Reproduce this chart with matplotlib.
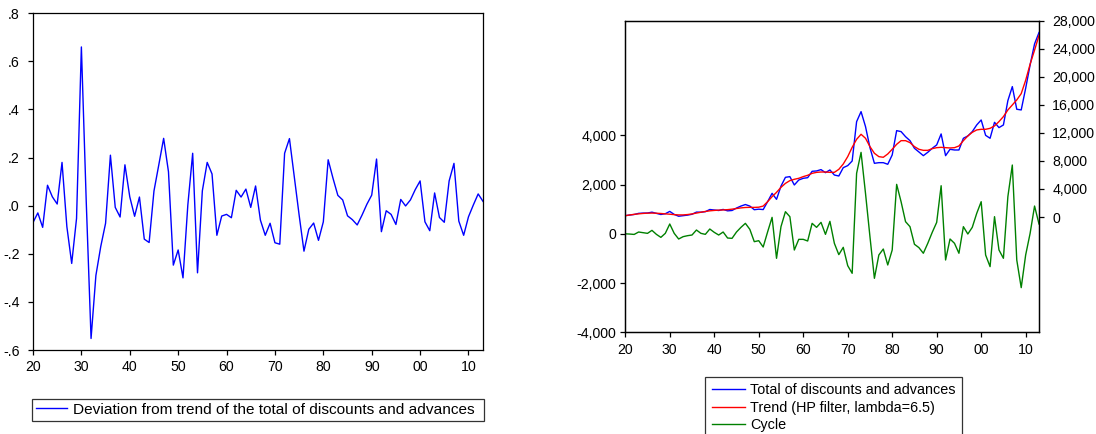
import matplotlib
matplotlib.use("Agg")
import matplotlib.pyplot as plt
from matplotlib.ticker import FixedLocator, FuncFormatter

plt.rcParams['font.family'] = ['Liberation Sans', 'DejaVu Sans']
plt.rcParams['font.size'] = 10

# annual data 1920-2013
years = list(range(1920, 2014))

# log deviation from trend
deviation = [
    -0.07, -0.03, -0.09, 0.085, 0.037, 0.007, 0.18, -0.087, -0.24, -0.053,
    0.66, 0.02, -0.552, -0.29, -0.17, -0.073, 0.21, -0.007, -0.047, 0.17,
    0.037, -0.044, 0.036, -0.139, -0.153, 0.061, 0.17, 0.28, 0.141, -0.247,
    -0.184, -0.30, 0.003, 0.218, -0.279, 0.062, 0.18, 0.132, -0.123, -0.043,
    -0.036, -0.05, 0.064, 0.036, 0.069, -0.007, 0.082, -0.06, -0.123, -0.073,
    -0.154, -0.16, 0.218, 0.279, 0.12, -0.039, -0.189, -0.098, -0.072, -0.144,
    -0.067, 0.191, 0.114, 0.043, 0.024, -0.042, -0.058, -0.08, -0.039, 0.006,
    0.044, 0.194, -0.108, -0.021, -0.036, -0.078, 0.026, -0.001, 0.024, 0.067,
    0.103, -0.067, -0.104, 0.053, -0.049, -0.069, 0.103, 0.176, -0.064, -0.123,
    -0.046, 0.003, 0.049, 0.018,
]

# total of discounts and advances
total = [
    190, 280, 360, 520, 560, 570, 690, 520, 360, 470,
    800, 370, 110, 190, 270, 390, 700, 690, 760, 1070,
    1000, 930, 1080, 880, 930, 1280, 1560, 1780, 1560, 1040,
    1120, 1060, 2190, 3380, 2520, 4400, 5660, 5760, 4570, 5280,
    5520, 5610, 6520, 6570, 6760, 6330, 6710, 5990, 5850, 7040,
    7330, 7990, 13600, 15030, 12900, 9900, 7660, 7750, 7750, 7520,
    8850, 12320, 12180, 11460, 10890, 9800, 9280, 8750, 9230, 9800,
    10280, 11850, 8750, 9660, 9560, 9560, 11230, 11560, 12180, 13130,
    13840, 11650, 11230, 13510, 12750, 13130, 16600, 18600, 15370, 15270,
    18360, 21690, 24690, 26310,
]

# HP trend, lambda = 6.5
trend = [
    190, 290, 380, 450, 510, 550, 560, 540, 500, 450,
    400, 340, 300, 300, 350, 440, 560, 680, 790, 880,
    940, 980, 1010, 1050, 1120, 1210, 1300, 1360, 1380, 1370,
    1400, 1560, 2190, 2900, 3520, 4230, 4800, 5190, 5380, 5520,
    5760, 5950, 6230, 6370, 6420, 6420, 6370, 6370, 6800, 7560,
    8610, 9940, 11080, 11800, 11230, 10040, 9090, 8610, 8520, 8990,
    9660, 10370, 10890, 10890, 10610, 10040, 9660, 9510, 9510, 9750,
    9890, 9940, 9890, 9850, 9890, 10130, 10890, 11560, 12080, 12420,
    12510, 12510, 12650, 12990, 13610, 14320, 15270, 15980, 16700, 17600,
    19500, 21800, 23800, 25900,
]

# cycle component
cycle = [
    0, -10, -25, 73, 46, 19, 140, -22, -144, 19,
    398, 19, -211, -116, -76, -49, 154, 19, -22, 195,
    60, -49, 73, -171, -184, 73, 262, 425, 181, -319,
    -279, -536, 80, 668, -995, 290, 898, 695, -658, -225,
    -225, -292, 425, 262, 465, -22, 506, -386, -846, -549,
    -1293, -1604, 2455, 3307, 1643, -116, -1807, -860, -617, -1266,
    -658, 2008, 1300, 493, 290, -425, -560, -790, -385, 60,
    465, 1953, -1063, -210, -385, -790, 290, -8, 263, 831,
    1304, -860, -1333, 696, -656, -994, 1507, 2793, -1063, -2186,
    -860, 19, 1128, 398,
]

decade_ticks = [1920, 1930, 1940, 1950, 1960, 1970, 1980, 1990, 2000, 2010]
decade_labels = ['20', '30', '40', '50', '60', '70', '80', '90', '00', '10']


def dev_fmt(v, pos):
    s = '%.1f' % v
    return s.replace('0.', '.')


def thousands(v, pos):
    return '{:,.0f}'.format(v)


def style_axes(ax):
    for sp in ax.spines.values():
        sp.set_linewidth(0.9)
        sp.set_color('black')
    ax.set_xlim(1920, 2013)
    ax.set_xticks(decade_ticks)
    ax.set_xticklabels(decade_labels)
    ax.tick_params(direction='out', length=3.5, width=0.9, colors='black', labelsize=10.2)
    ax.tick_params(axis='x', pad=4)


fig = plt.figure(figsize=(10.96, 4.34), dpi=100)

# left: deviation from trend
ax1 = fig.add_axes([0.0301, 0.1935, 0.4106, 0.7759])
ax1.plot(years, deviation, color='#0000FF', lw=1.0,
         label='Deviation from trend of the total of discounts and advances')
style_axes(ax1)
ax1.set_ylim(-0.6, 0.8)
ax1.yaxis.set_major_locator(FixedLocator([-0.6, -0.4, -0.2, 0.0, 0.2, 0.4, 0.6, 0.8]))
ax1.yaxis.set_major_formatter(FuncFormatter(dev_fmt))
ax1.tick_params(axis='y', pad=6)

fig.legend(handles=ax1.get_lines(), loc='upper left',
           bbox_to_anchor=(32 / 1096, 1 - 399 / 434, 452 / 1096, 0.0),
           mode='expand', frameon=True, fancybox=False, edgecolor='black',
           handlelength=2.0, handletextpad=0.4, borderpad=0.25, borderaxespad=0,
           fontsize=11.1).get_frame().set_linewidth(0.9)

# right: actual, trend and cycle
ax2 = fig.add_axes([0.5705, 0.2343, 0.3775, 0.718])
ax3 = ax2.twinx()
l_cyc, = ax2.plot(years, cycle, color='#008000', lw=1.0, label='Cycle')
l_tot, = ax3.plot(years, total, color='#0000FF', lw=1.0, label='Total of discounts and advances')
l_tr, = ax3.plot(years, trend, color='#FF0000', lw=1.0, label='Trend (HP filter, lambda=6.5)')
style_axes(ax2)
style_axes(ax3)
ax2.set_ylim(-4000, 8654)
ax2.yaxis.set_major_locator(FixedLocator([-4000, -2000, 0, 2000, 4000]))
ax2.yaxis.set_major_formatter(FuncFormatter(thousands))
ax2.tick_params(axis='y', pad=3)
ax3.set_ylim(-16446, 28000)
ax3.yaxis.set_major_locator(FixedLocator(list(range(0, 28001, 4000))))
ax3.yaxis.set_major_formatter(FuncFormatter(thousands))
ax3.tick_params(axis='y', pad=6)

fig.legend(handles=[l_tot, l_tr, l_cyc], loc='upper left',
           bbox_to_anchor=(705 / 1096, 1 - 377 / 434), frameon=True,
           fancybox=False, edgecolor='black', handlelength=2.3,
           handletextpad=0.35, borderpad=0.45, labelspacing=0.22,
           borderaxespad=0, fontsize=10.4).get_frame().set_linewidth(0.9)

fig.savefig('out.png', dpi=100, facecolor='white')
